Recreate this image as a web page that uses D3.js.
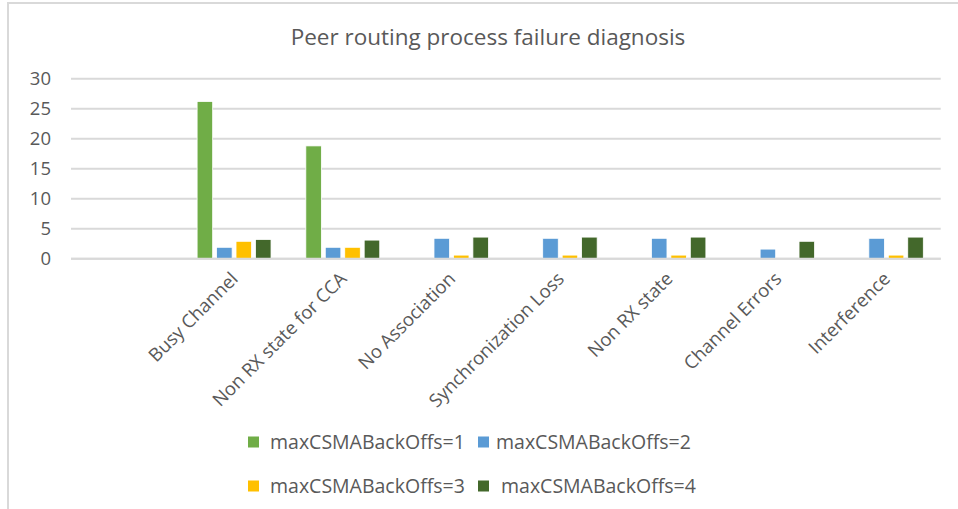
<!DOCTYPE html>
<html lang="en">
<head>
<meta charset="UTF-8">
<title>Peer routing process failure diagnosis</title>
<script src="https://cdn.jsdelivr.net/npm/d3@7"></script>
<style>
  body { margin: 0; background: #fff; }
  text { font-family: "Open Sans", "Noto Sans", sans-serif; fill: #595959; }
  .grid line { stroke: #d9d9d9; stroke-width: 2; }
</style>
</head>
<body>
<svg id="chart" width="958" height="509"></svg>
<script>
// first slot has no label in the original
var categories = ["", "Busy Channel", "Non RX state for CCA", "No Association",
  "Synchronization Loss", "Non RX state", "Channel Errors", "Interference"];
var seriesNames = ["maxCSMABackOffs=1", "maxCSMABackOffs=2", "maxCSMABackOffs=3", "maxCSMABackOffs=4"];
var backoff1 = [0, 26.2, 18.8, 0, 0, 0, 0, 0];
var backoff2 = [0, 1.9, 1.9, 3.4, 3.4, 3.4, 1.6, 3.4];
var backoff3 = [0, 2.9, 1.9, 0.6, 0.6, 0.6, 0, 0.6];
var backoff4 = [0, 3.2, 3.1, 3.6, 3.6, 3.6, 2.9, 3.6];
var yTicks = [0, 5, 10, 15, 20, 25, 30];
var colors = ["#70ad47", "#5b9bd5", "#ffc000", "#43682b"];

var series = [backoff1, backoff2, backoff3, backoff4];
var svg = d3.select("#chart");

// outer frame (right and bottom edges sit outside the picture)
svg.append("rect")
    .attr("x", 8).attr("y", 3)
    .attr("width", 980).attr("height", 540)
    .attr("fill", "none").attr("stroke", "#d9d9d9").attr("stroke-width", 2);

var x0 = d3.scaleBand().domain(categories).range([71, 940.7])
    .paddingInner(0.32).paddingOuter(0.16);
var x1 = d3.scaleBand().domain(d3.range(4)).range([0, x0.bandwidth()]).paddingInner(0.2);
var y = d3.scaleLinear().domain([0, 30]).range([258.7, 78.7]);

svg.append("text")
    .attr("x", 488).attr("y", 45)
    .attr("text-anchor", "middle")
    .style("font-size", "22.5px")
    .text("Peer routing process failure diagnosis");

var grid = svg.append("g").attr("class", "grid");
grid.selectAll("line").data(yTicks).join("line")
    .attr("x1", 71).attr("x2", 940.7)
    .attr("y1", function(d) { return y(d); })
    .attr("y2", function(d) { return y(d); });

svg.append("g").selectAll("text").data(yTicks).join("text")
    .attr("x", 51).attr("y", function(d) { return y(d); })
    .attr("dy", "0.35em")
    .attr("text-anchor", "end")
    .style("font-size", "18.5px")
    .text(function(d) { return d; });

var groups = svg.append("g").selectAll("g").data(categories).join("g")
    .attr("transform", function(d) { return "translate(" + x0(d) + ",0)"; });

groups.selectAll("rect")
    .data(function(d, i) { return series.map(function(s, k) { return {k: k, v: s[i]}; }); })
    .join("rect")
    .filter(function(d) { return d.v > 0; })
    .attr("x", function(d) { return x1(d.k); })
    .attr("y", function(d) { return y(d.v); })
    .attr("width", x1.bandwidth())
    .attr("height", function(d) { return y(0) - y(d.v); })
    .attr("fill", function(d) { return colors[d.k]; })
    .attr("stroke", "#fff").attr("stroke-width", 0.8);

// axis baseline on top of bars
svg.append("line")
    .attr("x1", 71).attr("x2", 940.7)
    .attr("y1", y(0)).attr("y2", y(0))
    .attr("stroke", "#d9d9d9").attr("stroke-width", 2);

svg.append("g").selectAll("text").data(categories).join("text")
    .attr("transform", function(d) {
        return "translate(" + (x0(d) + x0.bandwidth() / 2 + 5) + ",280) rotate(-45)";
    })
    .attr("text-anchor", "end")
    .style("font-size", "18.5px")
    .text(function(d) { return d; });

// legend, two rows of two
var legendPos = [[248, 442], [478, 442], [248, 486], [478, 486]];
var legend = svg.append("g").selectAll("g").data(seriesNames).join("g")
    .attr("transform", function(d, i) { return "translate(" + legendPos[i][0] + "," + legendPos[i][1] + ")"; });
legend.append("rect")
    .attr("x", 0).attr("y", -5.5).attr("width", 11).attr("height", 11)
    .attr("fill", function(d, i) { return colors[i]; });
legend.append("text")
    .attr("x", function(d, i) { return i === 1 ? 18 : (i === 3 ? 23 : 22); })
    .attr("dy", "0.35em")
    .style("font-size", "19.5px")
    .text(function(d) { return d; });
</script>
</body>
</html>
